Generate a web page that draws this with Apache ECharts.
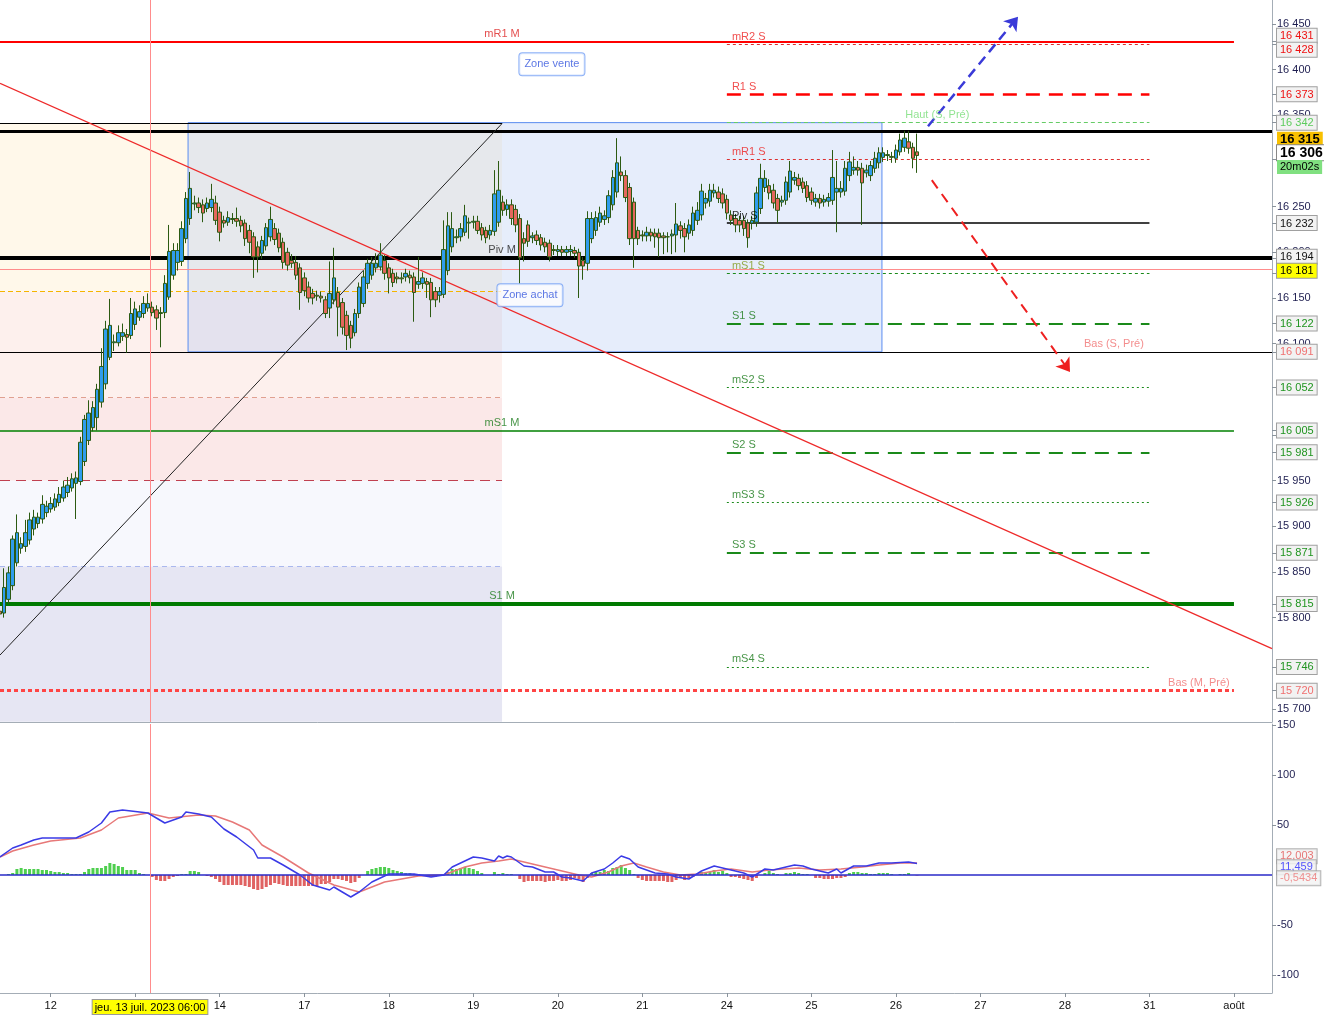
<!DOCTYPE html>
<html>
<head>
<meta charset="utf-8">
<script src="https://cdn.jsdelivr.net/npm/echarts@6/dist/echarts.min.js"></script>
<style>
html, body { margin: 0; padding: 0; background: #fff; }
#chart { width: 1324px; height: 1016px; }
</style>
</head>
<body>
<div id="chart"></div>
<script>
// time slots: one slot per hourly candle, 20 per trading day
var slotCount = 302;
var slotsPerDay = 20;
var firstDayIdx = 12;
var dayNames = ['12', '13', '14', '17', '18', '19', '20', '21', '24', '25', '26', '27', '28', '31', 'août'];

// candles
var candleOpen = [15807,15805,15820,15835,15860,15876,15878,15885,15897,15903,15908,15915,15919,15921,15926,15931,15937,15942,15947,15949,
15971,15994,16008,16019,16036,16056,16085,16101,16101,16108,16110,16109,16121,16129,16133,16139,16140,16137,16133,16134,
16151,16175,16189,16190,16215,16237,16253,16254,16252,16248,16249,16254,16244,16235,16233,16236,16237,16235,16232,16224,
16217,16206,16199,16207,16217,16226,16221,16211,16200,16191,16189,16183,16172,16162,16155,16153,16152,16148,16139,16148,
16156,16145,16131,16120,16112,16133,16144,16166,16175,16183,16184,16191,16183,16177,16173,16172,16173,16175,16173,16165,
16166,16168,16167,16157,16153,16154,16180,16206,16216,16217,16222,16232,16233,16234,16227,16224,16219,16223,16233,16255,
16247,16252,16247,16237,16215,16230,16216,16219,16216,16211,16210,16203,16201,16203,16200,16201,16202,16200,16191,16188,
16215,16224,16233,16236,16238,16252,16266,16288,16284,16271,16255,16224,16219,16218,16222,16221,16221,16218,16217,16218,
16219,16229,16226,16221,16224,16235,16241,16254,16256,16265,16266,16264,16258,16241,16237,16235,16235,16232,16232,16233,
16248,16271,16273,16268,16259,16255,16257,16266,16279,16281,16277,16273,16266,16255,16259,16255,16256,16257,16266,16266,
16267,16284,16290,16293,16292,16287,16284,16292,16298,16304,16306,16305,16303,16310,16315,16321,16315,16310];
var candleClose = [15804,15833,15849,15886,15893,15881,15893,15907,15910,15910,15924,15922,15925,15930,15935,15943,15945,15952,15953,15992,
16017,16024,16030,16050,16075,16116,16120,16102,16112,16112,16107,16133,16138,16135,16144,16144,16134,16128,16134,16166,
16201,16202,16202,16226,16259,16270,16254,16249,16243,16254,16258,16235,16222,16232,16238,16237,16234,16229,16215,16211,
16195,16195,16213,16227,16236,16214,16205,16189,16186,16188,16175,16156,16158,16150,16150,16152,16150,16133,16155,16172,
16140,16118,16109,16106,16133,16162,16173,16188,16188,16188,16197,16177,16172,16167,16171,16171,16177,16172,16156,16168,
16172,16165,16148,16148,16157,16203,16229,16226,16217,16226,16240,16233,16234,16224,16219,16216,16224,16264,16268,16246,
16252,16237,16230,16194,16210,16212,16218,16213,16208,16206,16195,16202,16203,16200,16203,16203,16199,16185,16185,16237,
16237,16238,16243,16240,16262,16282,16298,16284,16260,16215,16215,16215,16218,16222,16218,16217,16216,16216,16217,16220,
16231,16224,16217,16230,16243,16246,16267,16259,16268,16268,16259,16254,16243,16235,16230,16230,16226,16216,16235,16265,
16281,16281,16265,16254,16246,16257,16277,16289,16282,16273,16270,16260,16257,16259,16254,16258,16260,16282,16270,16270,
16292,16299,16293,16290,16276,16290,16295,16303,16309,16309,16307,16304,16312,16323,16325,16314,16303,16306];
var candleLow = [15772,15800,15815,15830,15856,15870,15872,15880,15890,15898,15903,15910,15915,15917,15922,15927,15932,15938,15908,15945,
15966,15989,16004,16005,16030,16050,16082,16092,16097,16103,16090,16105,16115,16125,16128,16135,16130,16115,16096,16128,
16148,16170,16180,16185,16210,16230,16246,16243,16233,16244,16244,16230,16212,16227,16229,16231,16228,16222,16207,16199,
16172,16178,16193,16202,16212,16208,16200,16182,16180,16183,16170,16137,16152,16145,16143,16147,16145,16128,16128,16143,
16108,16110,16093,16095,16108,16128,16140,16160,16170,16178,16180,16170,16155,16162,16166,16166,16168,16166,16124,16160,
16160,16150,16129,16140,16145,16150,16175,16200,16210,16212,16218,16215,16226,16220,16213,16210,16214,16218,16228,16240,
16240,16230,16222,16166,16190,16206,16210,16208,16202,16200,16190,16197,16196,16196,16196,16196,16194,16150,16170,16180,
16210,16218,16228,16230,16232,16246,16260,16278,16255,16208,16183,16208,16212,16212,16212,16205,16195,16198,16200,16198,
16200,16215,16200,16214,16218,16230,16235,16248,16250,16260,16254,16248,16236,16230,16222,16222,16218,16205,16225,16228,
16242,16266,16258,16248,16232,16250,16252,16260,16274,16268,16265,16255,16252,16250,16248,16250,16250,16252,16222,16260,
16262,16278,16285,16284,16230,16282,16278,16287,16292,16299,16300,16298,16298,16306,16310,16308,16292,16287];
var candleHigh = [15830,15854,15856,15890,15913,15888,15907,15915,15918,15915,15934,15928,15932,15936,15943,15950,15954,15958,15960,15998,
16022,16038,16037,16056,16095,16125,16149,16110,16120,16122,16116,16150,16146,16142,16152,16155,16146,16142,16140,16175,
16230,16210,16210,16234,16266,16288,16262,16260,16258,16260,16275,16262,16250,16240,16245,16243,16249,16240,16236,16230,
16222,16212,16218,16232,16250,16232,16226,16216,16205,16198,16196,16188,16178,16168,16160,16158,16157,16152,16190,16205,
16162,16150,16136,16125,16138,16167,16180,16193,16195,16199,16210,16197,16188,16182,16178,16178,16182,16180,16178,16195,
16178,16172,16172,16162,16162,16235,16244,16244,16225,16232,16252,16238,16240,16240,16232,16228,16230,16290,16300,16262,
16258,16258,16252,16242,16222,16235,16222,16224,16220,16216,16214,16208,16208,16207,16207,16208,16206,16204,16195,16245,
16244,16245,16250,16246,16268,16290,16325,16305,16290,16276,16260,16228,16224,16228,16226,16226,16226,16222,16222,16225,
16254,16234,16232,16236,16250,16255,16275,16265,16275,16275,16272,16270,16263,16246,16242,16240,16240,16236,16240,16272,
16297,16290,16280,16275,16264,16262,16283,16300,16288,16286,16282,16278,16271,16264,16264,16263,16265,16312,16300,16278,
16300,16310,16305,16300,16298,16296,16300,16310,16315,16315,16312,16310,16318,16330,16333,16333,16320,16330];

// MACD pane: [slot, value] points
var macdLine = [[0,18],[3,27],[5,30],[8,35],[10,37],[18,37],[21,43],[24,52],[26,63],[29,65],[31,64],[35,62],[39,52],[43,58],[44,63],
[47,61],[50,58],[53,46],[56,38],[60,25],[61,17],[64,17],[67,10],[71,0],[74,-10],[78,-15],[79,-12],[83,-22],[85,-17],[88,-7],
[92,1],[98,1],[102,-2],[105,0],[107,8],[112,18],[114,17],[117,14],[118,19],[119,17],[120,19],[121,18],[124,9],[126,8],[129,3],
[131,3],[133,-2],[135,-3],[138,-6],[140,2],[143,6],[145,12],[147,19],[149,16],[151,8],[155,2],[158,1],[160,-2],[163,-4],[166,4],
[169,9],[172,6],[176,2],[178,-2],[181,6],[183,5],[188,10],[190,9],[192,6],[196,2],[198,6],[199,2],[202,9],[205,9],[208,12],
[211,12],[215,13],[217,11.459]];
var signalLine = [[0,18],[3,24],[8,30],[12,34],[19,37],[24,45],[28,57],[35,62],[40,57],[47,60],[51,59],[55,53],[59,45],[62,30],
[67,18],[73,2],[79,-10],[85,-17],[91,-7],[99,-1],[105,0],[110,8],[114,12],[118,14],[121,16],[125,12],[129,8],[133,4],[137,0],
[140,-2],[144,3],[147,9],[150,12],[153,8],[157,3],[161,0],[165,1],[169,4],[173,6],[178,3],[182,5],[189,7],[194,5],[199,6],
[204,8],[208,10],[213,12],[217,12.003]];
var histValues = [0,0,1,2,6,7,6,6,6,6, 5,5,4,3,3,2,2,1,1,1, 3,6,7,7,7,9,12,11,9,8, 5,5,5,2,1,0,-2,-5,-6,-6,
-4,-2,-1,1,1,4,4,3,0,-1, -2,-4,-7,-10,-10,-10,-10,-10,-11,-12, -14,-15,-14,-12,-10,-8,-9,-10,-11,-11,
-11,-11,-11,-11,-11,-11,-9,-9,-7,-4, -4,-5,-6,-8,-7,-3,0,4,6,7, 8,8,7,5,4,3,2,2,1,1,
0,0,-2,-2,-1,0,3,6,6,7, 8,7,6,4,2,0,0,3,1,2, 1,1,0,-4,-7,-6,-6,-6,-6,-7,
-6,-6,-5,-6,-6,-5,-3,-4,-7,-3, 2,3,3,5,4,7,8,10,7,5, 1,-3,-5,-6,-6,-6,-6,-6,-7,-7,
-5,-3,-5,-3,-2,0,3,2,3,5, 3,4,2,-2,-2,-3,-4,-5,-6,-3, 0,2,4,2,1,0,2,2,3,2,
1,1,0,-3,-3,-4,-4,-4,-3,-3, -2,2,3,3,2,2,1,1,2,2, 2,1,0,1,1,2,0,-0.5434];

// pivot levels
var levelNames = ['mR1 M','mR2 S','R1 S','Haut (S, Pré)','mR1 S','Piv S','Piv M','mS1 S','S1 S','Bas (S, Pré)',
  'mS2 S','mS1 M','S2 S','mS3 S','S3 S','S1 M','mS4 S','Bas (M, Pré)'];
var levelValues = [16431,16428,16373,16342,16302,16232,16194,16177,16122,16091,16052,16005,15981,15926,15871,15815,15746,15720];

// hand drawn objects
var userLines = [16333, 16091];
var goldTag = 16315;
var zoneEdges = [16341, 16157, 16041, 15950, 15856, 15686];
var zoneEnd = 118.8;
var boxSpan = [44.5, 208.7];
var redTrend = [[0, 16385], [301, 15766]];
var blackTrend = [[0, 15759], [118.8, 16341]];
var upArrow = [[219.6, 16338], [240.9, 16458]];
var downArrow = [[220.5, 16279], [253.2, 16069]];
var noteTexts = ['Zone vente', 'Zone achat'];
var noteAt = [[130.6, 16406], [125.4, 16153]];

// crosshair and live price
var crossIdx = 35.5;
var crossPrice = 16181;
var crossText = 'jeu. 13 juil. 2023 06:00';
var timerText = '20m02s';
var priceTicks = [16450,16400,16350,16250,16200,16150,16100,16000,15950,15900,15850,15800,15700];
var macdTicks = [150, 100, 50, -50, -100];

var weekSpan = [172, 272], monthSpan = [0, 292], fullSpan = [0, 301];
var dotted = [2, 3], longDash = [14, 9];
var levelStyle = {
  'mR1 M': {color:'#ff0000', width:2, type:'solid', span:'month', text:'#dd2222', at:'mid', tag:'r'},
  'mR2 S': {color:'#dd3030', width:1, type:[3,3], span:'week', text:'#ee2222', tag:'r'},
  'R1 S': {color:'#ff0000', width:2.5, type:longDash, span:'week', text:'#ee2222', tag:'r'},
  'Haut (S, Pré)': {color:'#66cc66', width:1, type:[4,3], span:'week', text:'#77dd77', at:214.2, tag:'lg'},
  'mR1 S': {color:'#dd3030', width:1, type:[3,3], span:'week', text:'#ee2222'},
  'Piv S': {color:'#000000', width:1.5, type:'solid', span:'week', text:'#000000', tag:'k'},
  'Piv M': {color:'#000000', width:4, type:'solid', span:'full', text:'#222222', at:'mid', tag:'k'},
  'mS1 S': {color:'#1a8a1a', width:1, type:[3,3], span:'week', text:'#7f9a1a'},
  'S1 S': {color:'#1a8a1a', width:2, type:longDash, span:'week', text:'#1a7a1a', tag:'g'},
  'Bas (S, Pré)': {color:'#f08080', width:1.2, type:'solid', span:'rect', text:'#f07070', at:256.5, tag:'s'},
  'mS2 S': {color:'#1a8a1a', width:1, type:dotted, span:'week', text:'#1a7a1a', tag:'g'},
  'mS1 M': {color:'#008000', width:1.6, type:'solid', span:'month', text:'#1a7a1a', at:'mid', tag:'g'},
  'S2 S': {color:'#1a8a1a', width:2, type:longDash, span:'week', text:'#1a7a1a', tag:'g'},
  'mS3 S': {color:'#1a8a1a', width:1, type:dotted, span:'week', text:'#1a7a1a', tag:'g'},
  'S3 S': {color:'#1a8a1a', width:2, type:longDash, span:'week', text:'#1a7a1a', tag:'g'},
  'S1 M': {color:'#007a00', width:4, type:'solid', span:'month', text:'#1a7a1a', at:'mid', tag:'g'},
  'mS4 S': {color:'#1a8a1a', width:1, type:dotted, span:'week', text:'#1a7a1a', tag:'g'},
  'Bas (M, Pré)': {color:'#ff4444', width:3, type:[4,3], span:'month', text:'#f07070', at:276.4, tag:'s'}
};
var zoneColors = ['#fff8ea', '#fdf0ed', '#fbe8e8', '#f7f8fd', '#e6e6f3'];
var zoneLineStyles = [
  {color:'#000000', width:1, type:'solid'},
  {color:'#f5b400', width:1.2, type:[5,3]},
  {color:'#e0a090', width:1, type:[5,4]},
  {color:'#c04050', width:1, type:[10,6]},
  {color:'#aab8ee', width:1, type:[5,4]}
];

function fmtPrice(v) {
  return String(Math.round(v)).replace(/\B(?=(\d{3})+(?!\d))/g, ' ');
}
function fmtMacd(v) {
  return String(v).replace('.', ',');
}
function spread(tags, gap) {
  tags.sort(function (a, b) { return b.v - a.v; });
  var pos = tags.map(function (t) { return t.v; });
  for (var k = 0; k < 80; k++) {
    for (var i = 1; i < pos.length; i++) {
      if (pos[i - 1] - pos[i] < gap) {
        var m = (pos[i - 1] + pos[i]) / 2;
        pos[i - 1] = m + gap / 2;
        pos[i] = m - gap / 2;
      }
    }
  }
  tags.forEach(function (t, i) { t.at = pos[i]; });
  return tags;
}

var categories = [];
for (var i = 0; i < slotCount; i++) categories.push(String(i));
var candleData = candleOpen.map(function (o, i) {
  return [o, candleClose[i], candleLow[i], candleHigh[i]];
});
var lastClose = candleClose[candleClose.length - 1];
var histData = histValues.map(function (v, i) { return [i, v]; });

// right axis tags
var priceTags = [];
levelNames.forEach(function (n, i) {
  var s = levelStyle[n];
  if (s.tag) priceTags.push({v: levelValues[i], text: fmtPrice(levelValues[i]), st: s.tag});
});
priceTags.push({v: goldTag, text: fmtPrice(goldTag), st: 'gold'});
priceTags.push({v: lastClose, text: fmtPrice(lastClose), st: 'cur'});
priceTags.push({v: lastClose, text: timerText, st: 'timer'});
priceTags.push({v: crossPrice, text: fmtPrice(crossPrice), st: 'cross'});
spread(priceTags, 15.5);
var priceLabelMap = {};
priceTicks.forEach(function (v) { priceLabelMap[v.toFixed(3)] = '{p|' + fmtPrice(v) + '}'; });
priceTags.forEach(function (t) { priceLabelMap[t.at.toFixed(3)] = '{' + t.st + '|' + t.text + '}'; });

var macdTags = [
  {v: signalLine[signalLine.length - 1][1], st: 'r', color: '#e25555'},
  {v: macdLine[macdLine.length - 1][1], st: 'b', color: '#2b2bff'},
  {v: histValues[histValues.length - 1], st: 's', color: '#ee7777'}
];
macdTags.forEach(function (t) { t.text = fmtMacd(t.v); });
spread(macdTags, 11);
var macdLabelMap = {};
macdTicks.forEach(function (v) { macdLabelMap[v.toFixed(3)] = '{p|' + v + '}'; });

var dayIdx = dayNames.map(function (d, k) { return firstDayIdx + k * slotsPerDay; });

function box(c) {
  return {backgroundColor:'#f2f2f2', borderColor:'#a0a0a0', borderWidth:1, color:c, fontSize:11, padding:[2,3,1,3]};
}

// level lines and their labels
var levelLines = [], levelTags = [];
levelNames.forEach(function (n, i) {
  var s = levelStyle[n];
  var span = s.span === 'week' ? weekSpan : s.span === 'month' ? monthSpan : s.span === 'rect' ? [boxSpan[1], weekSpan[1]] : fullSpan;
  levelLines.push([
    {coord: [span[0], levelValues[i]], lineStyle: {color: s.color, width: s.width, type: s.type}},
    {coord: [span[1], levelValues[i]]}
  ]);
  var x = s.at === 'mid' ? zoneEnd : (s.at || weekSpan[0] + 1.2);
  levelTags.push({
    value: [x, levelValues[i]],
    label: {show: true, position: 'top', distance: 2, align: s.at === 'mid' ? 'center' : 'left',
      color: s.text, fontSize: 11, formatter: n}
  });
});
var userLineStyles = [{color:'#000000', width:3, type:'solid'}, {color:'#000000', width:1, type:'solid'}];
userLines.forEach(function (v, i) {
  levelLines.push([
    {coord: [fullSpan[0], v], lineStyle: userLineStyles[i]},
    {coord: [fullSpan[1], v]}
  ]);
});

var zoneAreas = [], zoneLines = [];
for (var z = 0; z < zoneColors.length; z++) {
  zoneAreas.push([
    {coord: [0, zoneEdges[z]], itemStyle: {color: zoneColors[z]}},
    {coord: [zoneEnd, zoneEdges[z + 1]]}
  ]);
  zoneLines.push([
    {coord: [0, zoneEdges[z]], lineStyle: zoneLineStyles[z]},
    {coord: [zoneEnd, zoneEdges[z]]}
  ]);
}

var chart = echarts.init(document.getElementById('chart'), null, {renderer: 'canvas'});
var option = {
  animation: false,
  backgroundColor: '#ffffff',
  textStyle: {fontFamily: 'Liberation Sans, Arial, sans-serif'},
  grid: [
    {left: 0, top: 0, width: 1272, height: 722, containLabel: false, outerBoundsMode: 'none'},
    {left: 0, top: 724, width: 1272, height: 269, containLabel: false, outerBoundsMode: 'none'}
  ],
  xAxis: [
    {type: 'category', gridIndex: 0, data: categories, boundaryGap: false,
      axisLine: {show: true, onZero: false, lineStyle: {color: '#a4adb6'}}, axisTick: {show: false}, axisLabel: {show: false},
      splitLine: {show: false}},
    {type: 'value', gridIndex: 0, min: 0, max: slotCount - 1, show: false, axisLine: {onZero: false}},
    {type: 'value', gridIndex: 1, min: 0, max: slotCount - 1, position: 'bottom',
      axisLine: {show: true, onZero: false, lineStyle: {color: '#a4adb6'}},
      axisTick: {show: true, length: 4, lineStyle: {color: '#8a939c'}, customValues: dayIdx},
      axisLabel: {
        show: true, margin: 7, customValues: dayIdx.concat([crossIdx]),
        formatter: function (v) {
          if (Math.abs(v - crossIdx) < 1e-6) return '{c|' + crossText + '}';
          return '{d|' + dayNames[Math.round((v - firstDayIdx) / slotsPerDay)] + '}';
        },
        rich: {
          d: {color: '#111', fontSize: 11},
          c: {color: '#000', fontSize: 11, backgroundColor: '#ffff00', borderColor: '#999', borderWidth: 1, padding: [2, 2, 1, 2]}
        }
      },
      splitLine: {show: false}}
  ],
  yAxis: [
    {type: 'value', gridIndex: 0, position: 'right', min: 15685.7, max: 16476.3,
      axisLine: {show: true, onZero: false, lineStyle: {color: '#a4adb6'}},
      axisTick: {show: true, length: 4, lineStyle: {color: '#8a939c'},
        customValues: priceTicks.concat(levelValues)},
      axisLabel: {
        show: true, margin: 5,
        customValues: priceTicks.concat(priceTags.map(function (t) { return t.at; })),
        formatter: function (v) { return priceLabelMap[v.toFixed(3)] || ''; },
        rich: {
          p: {color: '#1e1e50', fontSize: 11},
          r: box('#ee1111'), g: box('#1f941f'), k: box('#111111'), lg: box('#5ccc5c'), s: box('#f07070'),
          gold: {backgroundColor: '#f8c000', color: '#000', fontWeight: 'bold', fontSize: 13, padding: [1, 3, 0, 3]},
          cur: {backgroundColor: '#ffffff', borderColor: '#888', borderWidth: 1, color: '#000', fontWeight: 'bold', fontSize: 14, padding: [1, 3, 0, 3]},
          timer: {backgroundColor: '#80e080', color: '#000', fontSize: 11, padding: [2, 3, 1, 3]},
          cross: {backgroundColor: '#ffff00', borderColor: '#999', borderWidth: 1, color: '#000', fontSize: 11, padding: [2, 3, 1, 3]}
        }
      },
      splitLine: {show: false}},
    {type: 'value', gridIndex: 1, position: 'right', min: -118, max: 151,
      axisLine: {show: true, onZero: false, lineStyle: {color: '#a4adb6'}},
      axisTick: {show: true, length: 4, lineStyle: {color: '#8a939c'}, customValues: macdTicks},
      axisLabel: {
        show: true, margin: 5,
        customValues: macdTicks,
        formatter: function (v) { return macdLabelMap[v.toFixed(3)] || String(v); },
        rich: {p: {color: '#1e1e50', fontSize: 11}}
      },
      splitLine: {show: false}}
  ],
  series: [
    {
      name: 'zones', type: 'line', xAxisIndex: 1, yAxisIndex: 0, data: [], z: 1, silent: true,
      markArea: {silent: true, data: zoneAreas.concat([[
        {coord: [boxSpan[0], levelValues[3]], itemStyle: {color: 'rgba(168,192,241,0.29)', borderColor: '#5a8cf0', borderWidth: 1}},
        {coord: [boxSpan[1], levelValues[9]]}
      ]])},
      markLine: {silent: true, symbol: 'none', label: {show: false}, data: zoneLines}
    },
    {
      name: 'prix', type: 'candlestick', xAxisIndex: 0, yAxisIndex: 0, data: candleData, barWidth: 4, z: 5,
      itemStyle: {color: '#2f9cec', color0: '#e4675d', borderColor: '#2c5a12', borderColor0: '#2c5a12', borderWidth: 1}
    },
    {
      name: 'niveaux', type: 'line', xAxisIndex: 1, yAxisIndex: 0, data: [], z: 6, silent: true,
      markLine: {silent: true, symbol: 'none', label: {show: false},
        data: levelLines.concat([
          [{coord: redTrend[0], lineStyle: {color: '#ee2a2a', width: 1.2, type: 'solid'}}, {coord: redTrend[1]}],
          [{coord: blackTrend[0], lineStyle: {color: '#222222', width: 1, type: 'solid'}}, {coord: blackTrend[1]}],
          {xAxis: crossIdx, lineStyle: {color: '#ff8c8c', width: 1, type: 'solid'}},
          [{coord: [fullSpan[0], crossPrice], lineStyle: {color: '#ff8c8c', width: 1, type: 'solid'}}, {coord: [fullSpan[1], crossPrice]}]
        ])}
    },
    {
      name: 'fleches', type: 'line', xAxisIndex: 1, yAxisIndex: 0, data: [], z: 7, silent: true,
      markLine: {silent: true, symbol: ['none', 'arrow'], symbolSize: 13, label: {show: false},
        data: [
          [{coord: upArrow[0], lineStyle: {color: '#3a3ad8', width: 2.5, type: [10, 6]}, itemStyle: {color: '#3a3ad8'}}, {coord: upArrow[1]}],
          [{coord: downArrow[0], lineStyle: {color: '#ee2020', width: 2, type: [10, 7]}, itemStyle: {color: '#ee2020'}}, {coord: downArrow[1]}]
        ]}
    },
    {
      name: 'etiquettes', type: 'scatter', xAxisIndex: 1, yAxisIndex: 0, symbolSize: 0, z: 8, silent: true,
      data: levelTags
    },
    {
      name: 'zonesTexte', type: 'scatter', xAxisIndex: 1, yAxisIndex: 0, symbolSize: 0, z: 9, silent: true,
      data: noteTexts.map(function (t, i) {
        return {value: noteAt[i], label: {show: true, position: 'inside', formatter: t, color: '#3355dd', fontSize: 11,
          backgroundColor: 'rgba(255,255,255,0.92)', borderColor: '#6f9cf5', borderWidth: 1, borderRadius: 3, padding: [6, 5, 5, 5]}};
      })
    },
    {
      name: 'histogramme', type: 'bar', xAxisIndex: 2, yAxisIndex: 1, data: histData, barWidth: 3, z: 3,
      itemStyle: {color: function (p) { return p.value[1] >= 0 ? '#4fcf4f' : '#e06262'; }},
      markLine: {silent: true, symbol: 'none', label: {show: false},
        data: [
          {yAxis: 0, lineStyle: {color: '#2a2ac8', width: 1.5, type: 'solid'}},
          {xAxis: crossIdx, lineStyle: {color: '#ff8c8c', width: 1, type: 'solid'}}
        ]}
    },
    {
      name: 'signal', type: 'line', xAxisIndex: 2, yAxisIndex: 1, data: signalLine, symbol: 'none', z: 4,
      lineStyle: {color: '#e77878', width: 1.5}
    },
    {
      name: 'macd', type: 'line', xAxisIndex: 2, yAxisIndex: 1, data: macdLine, symbol: 'none', z: 5,
      lineStyle: {color: '#3a3ae6', width: 1.5}
    },
    {
      // last values of the MACD pane, shown beside its right axis
      name: 'macdTags', type: 'scatter', xAxisIndex: 2, yAxisIndex: 1, symbolSize: 0, z: 10, silent: true, clip: false,
      data: macdTags.map(function (t) {
        return {value: [slotCount - 1, t.at], label: {show: true, position: 'right', distance: 5, formatter: t.text,
          color: t.color, fontSize: 11, backgroundColor: '#f2f2f2', borderColor: '#a0a0a0', borderWidth: 1, padding: [2, 3, 1, 3]}};
      })
    }
  ]
};
chart.setOption(option);
</script>
</body>
</html>
